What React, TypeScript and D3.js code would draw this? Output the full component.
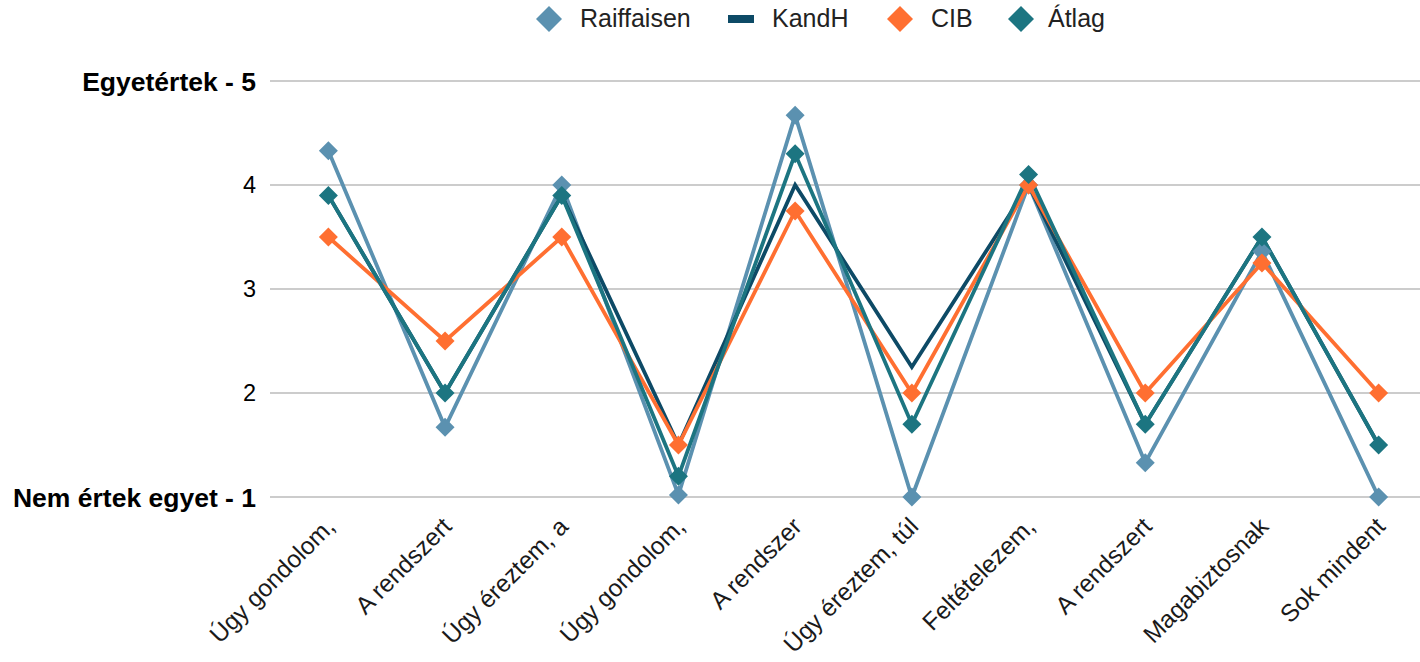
import * as d3 from "d3";

const categories = [
  "Úgy gondolom,", "A rendszert", "Úgy éreztem, a", "Úgy gondolom,", "A rendszer",
  "Úgy éreztem, túl", "Feltételezem,", "A rendszert", "Magabiztosnak", "Sok mindent",
];
const raiffaisen = [4.33, 1.67, 4.0, 1.02, 4.67, 1.0, 4.0, 1.33, 3.36, 1.0];
const kandh = [3.9, 2.0, 3.9, 1.5, 4.0, 2.25, 4.0, 1.7, 3.5, 1.5];
const cib = [3.5, 2.5, 3.5, 1.5, 3.75, 2.0, 4.0, 2.0, 3.25, 2.0];
const atlag = [3.9, 2.0, 3.9, 1.2, 4.3, 1.7, 4.1, 1.7, 3.5, 1.5];
const yTicks = [1, 2, 3, 4, 5];
const yTickLabels: Record<number, string> = { 1: "Nem értek egyet - 1", 5: "Egyetértek - 5" };

const series = [
  { name: "Raiffaisen", values: raiffaisen, color: "#5b91b0", marker: true },
  { name: "KandH", values: kandh, color: "#0d4a66", marker: false },
  { name: "CIB", values: cib, color: "#ff6f31", marker: true },
  { name: "Átlag", values: atlag, color: "#1c7581", marker: true },
];

const W = 1420, H = 662;
const FONT = "Liberation Sans, Arial, sans-serif";

export default function App() {
  const x = d3.scalePoint<number>().domain(categories.map((_, i) => i)).range([270, 1437]).padding(0.5);
  const y = d3.scaleLinear().domain([1, 5]).range([497, 81]);
  const line = d3.line<number>().x((_, i) => x(i)!).y(d => y(d));
  const diamond = (cx: number, cy: number, r: number) =>
    `M${cx},${cy - r}L${cx + r},${cy}L${cx},${cy + r}L${cx - r},${cy}Z`;

  // legend layout (marker centre, text start)
  const legend = [
    { mx: 549, tx: 580 },
    { mx: 741, tx: 772 },
    { mx: 900, tx: 931 },
    { mx: 1021, tx: 1048 },
  ];

  return (
    <div style={{ position: "absolute", left: 0, top: 0 }}>
      <svg width={W} height={H} style={{ display: "block", fontFamily: FONT }}>
        <rect width={W} height={H} fill="#fff" />
        {/* grid + y labels */}
        {yTicks.map(t => (
          <g key={t}>
            <line x1={270} x2={1437} y1={y(t)} y2={y(t)} stroke="#cccccc" strokeWidth={2} />
            <text
              x={256} y={y(t)} dy="0.36em" textAnchor="end"
              fontSize={yTickLabels[t] ? 26.5 : 23.5}
              fontWeight={yTickLabels[t] ? 700 : 400}
              fill="#000"
            >
              {yTickLabels[t] ?? String(t)}
            </text>
          </g>
        ))}

        {/* lines */}
        {series.map(s => (
          <path key={s.name} d={line(s.values) ?? ""} fill="none" stroke={s.color} strokeWidth={3.8} strokeLinejoin="miter" />
        ))}
        {/* markers */}
        {series.filter(s => s.marker).map(s => (
          <g key={s.name}>
            {s.values.map((v, i) => (
              <path key={i} d={diamond(x(i)!, y(v), 9.5)} fill={s.color} />
            ))}
          </g>
        ))}

        {/* category labels */}
        {categories.map((c, i) => (
          <text
            key={i}
            transform={`translate(${x(i)! + 8},${528}) rotate(-45)`}
            textAnchor="end" fontSize={24.5} fill="#1a1a1a"
          >
            {c}
          </text>
        ))}

        {/* legend */}
        {series.map((s, i) => (
          <g key={s.name}>
            {s.marker
              ? <path d={diamond(legend[i].mx, 19, 13)} fill={s.color} />
              : <rect x={legend[i].mx - 13} y={15} width={26} height={8} fill={s.color} />}
            <text x={legend[i].tx} y={27} fontSize={25} fill="#222">{s.name}</text>
          </g>
        ))}
      </svg>
    </div>
  );
}
